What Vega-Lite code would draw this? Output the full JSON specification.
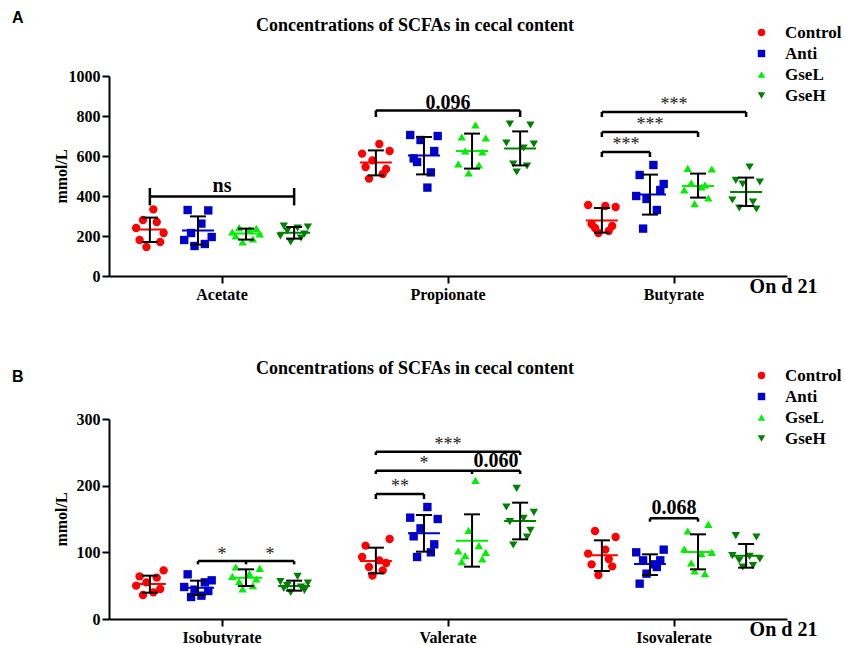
{
"$schema": "https://vega.github.io/schema/vega-lite/v6.json",
"padding": {"left": 12, "top": 10, "right": 0, "bottom": 0},
"spacing": 58,
"resolve": {"scale": {"x": "independent", "y": "independent", "xOffset": "independent", "color": "independent", "shape": "independent"}},
"config": {
  "view": {"stroke": null},
  "font": "Liberation Serif",
  "axis": {"grid": false, "domainColor": "#000", "domainWidth": 2, "tickColor": "#000", "tickWidth": 2, "tickSize": 7, "labelFont": "Liberation Serif", "labelFontWeight": "bold", "labelFontSize": 16, "labelColor": "#000", "titleFont": "Liberation Serif", "titleFontWeight": "bold", "titleColor": "#000", "labelOverlap": false},
  "axisX": {"labelAngle": 0, "labelPadding": 3, "titleFontSize": 20, "titleX": 674, "titleY": 16, "titleAlign": "center", "titleBaseline": "alphabetic"},
  "axisY": {"labelPadding": 2, "titleFontSize": 16, "titleX": -48, "titleBaseline": "middle", "format": "d"},
  "legend": {"labelFont": "Liberation Serif", "labelFontWeight": "bold", "labelFontSize": 17, "labelColor": "#000", "symbolSize": 55, "labelOffset": 15, "rowPadding": 3, "padding": 0},
  "title": {"font": "Liberation Serif", "fontWeight": "bold", "color": "#000", "fontSize": 18}
},
"datasets": {
  "ptsA": [
    {"acid":"Acetate","group":"Control","k":"C5","v":333},{"acid":"Acetate","group":"Control","k":"C3","v":280},{"acid":"Acetate","group":"Control","k":"C6","v":270},{"acid":"Acetate","group":"Control","k":"C1","v":240},{"acid":"Acetate","group":"Control","k":"C8","v":215},{"acid":"Acetate","group":"Control","k":"C2","v":180},{"acid":"Acetate","group":"Control","k":"C7","v":170},{"acid":"Acetate","group":"Control","k":"C4","v":145},
    {"acid":"Acetate","group":"Anti","k":"A2","v":330},{"acid":"Acetate","group":"Anti","k":"A7","v":328},{"acid":"Acetate","group":"Anti","k":"A5","v":262},{"acid":"Acetate","group":"Anti","k":"A3","v":215},{"acid":"Acetate","group":"Anti","k":"A8","v":195},{"acid":"Acetate","group":"Anti","k":"A1","v":180},{"acid":"Acetate","group":"Anti","k":"A6","v":160},{"acid":"Acetate","group":"Anti","k":"A4","v":150},
    {"acid":"Acetate","group":"GseL","k":"L3","v":242},{"acid":"Acetate","group":"GseL","k":"L7","v":238},{"acid":"Acetate","group":"GseL","k":"L5","v":232},{"acid":"Acetate","group":"GseL","k":"L1","v":220},{"acid":"Acetate","group":"GseL","k":"L8","v":210},{"acid":"Acetate","group":"GseL","k":"L2","v":200},{"acid":"Acetate","group":"GseL","k":"L6","v":185},{"acid":"Acetate","group":"GseL","k":"L4","v":170},
    {"acid":"Acetate","group":"GseH","k":"H2","v":250},{"acid":"Acetate","group":"GseH","k":"H8","v":245},{"acid":"Acetate","group":"GseH","k":"H5","v":240},{"acid":"Acetate","group":"GseH","k":"H3","v":225},{"acid":"Acetate","group":"GseH","k":"H7","v":210},{"acid":"Acetate","group":"GseH","k":"H1","v":200},{"acid":"Acetate","group":"GseH","k":"H6","v":190},{"acid":"Acetate","group":"GseH","k":"H4","v":170},
    {"acid":"Propionate","group":"Control","k":"C5","v":660},{"acid":"Propionate","group":"Control","k":"C8","v":625},{"acid":"Propionate","group":"Control","k":"C1","v":612},{"acid":"Propionate","group":"Control","k":"C4","v":578},{"acid":"Propionate","group":"Control","k":"C2","v":545},{"acid":"Propionate","group":"Control","k":"C7","v":535},{"acid":"Propionate","group":"Control","k":"C6","v":510},{"acid":"Propionate","group":"Control","k":"C3","v":487},
    {"acid":"Propionate","group":"Anti","k":"A1","v":705},{"acid":"Propionate","group":"Anti","k":"A8","v":700},{"acid":"Propionate","group":"Anti","k":"A4","v":680},{"acid":"Propionate","group":"Anti","k":"A7","v":625},{"acid":"Propionate","group":"Anti","k":"A2","v":588},{"acid":"Propionate","group":"Anti","k":"A3","v":570},{"acid":"Propionate","group":"Anti","k":"A6","v":518},{"acid":"Propionate","group":"Anti","k":"A5","v":442},
    {"acid":"Propionate","group":"GseL","k":"L5","v":755},{"acid":"Propionate","group":"GseL","k":"L2","v":695},{"acid":"Propionate","group":"GseL","k":"L8","v":690},{"acid":"Propionate","group":"GseL","k":"L3","v":625},{"acid":"Propionate","group":"GseL","k":"L7","v":620},{"acid":"Propionate","group":"GseL","k":"L1","v":560},{"acid":"Propionate","group":"GseL","k":"L6","v":555},{"acid":"Propionate","group":"GseL","k":"L4","v":515},
    {"acid":"Propionate","group":"GseH","k":"H2","v":760},{"acid":"Propionate","group":"GseH","k":"H7","v":755},{"acid":"Propionate","group":"GseH","k":"H1","v":665},{"acid":"Propionate","group":"GseH","k":"H8","v":660},{"acid":"Propionate","group":"GseH","k":"H5","v":640},{"acid":"Propionate","group":"GseH","k":"H3","v":560},{"acid":"Propionate","group":"GseH","k":"H6","v":550},{"acid":"Propionate","group":"GseH","k":"H4","v":520},
    {"acid":"Butyrate","group":"Control","k":"C1","v":355},{"acid":"Butyrate","group":"Control","k":"C5","v":350},{"acid":"Butyrate","group":"Control","k":"C8","v":345},{"acid":"Butyrate","group":"Control","k":"C2","v":260},{"acid":"Butyrate","group":"Control","k":"C7","v":250},{"acid":"Butyrate","group":"Control","k":"C3","v":240},{"acid":"Butyrate","group":"Control","k":"C6","v":225},{"acid":"Butyrate","group":"Control","k":"C4","v":215},
    {"acid":"Butyrate","group":"Anti","k":"A5","v":555},{"acid":"Butyrate","group":"Anti","k":"A2","v":505},{"acid":"Butyrate","group":"Anti","k":"A8","v":460},{"acid":"Butyrate","group":"Anti","k":"A7","v":430},{"acid":"Butyrate","group":"Anti","k":"A1","v":400},{"acid":"Butyrate","group":"Anti","k":"A4","v":385},{"acid":"Butyrate","group":"Anti","k":"A6","v":330},{"acid":"Butyrate","group":"Anti","k":"A3","v":237},
    {"acid":"Butyrate","group":"GseL","k":"L2","v":538},{"acid":"Butyrate","group":"GseL","k":"L8","v":535},{"acid":"Butyrate","group":"GseL","k":"L3","v":465},{"acid":"Butyrate","group":"GseL","k":"L6","v":455},{"acid":"Butyrate","group":"GseL","k":"L5","v":445},{"acid":"Butyrate","group":"GseL","k":"L1","v":430},{"acid":"Butyrate","group":"GseL","k":"L7","v":390},{"acid":"Butyrate","group":"GseL","k":"L4","v":362},
    {"acid":"Butyrate","group":"GseH","k":"H5","v":545},{"acid":"Butyrate","group":"GseH","k":"H2","v":478},{"acid":"Butyrate","group":"GseH","k":"H8","v":470},{"acid":"Butyrate","group":"GseH","k":"H4","v":460},{"acid":"Butyrate","group":"GseH","k":"H1","v":380},{"acid":"Butyrate","group":"GseH","k":"H6","v":370},{"acid":"Butyrate","group":"GseH","k":"H3","v":340},{"acid":"Butyrate","group":"GseH","k":"H7","v":335}
  ],
  "sumA": [
    {"acid":"Acetate","k":"Control","mean":232,"lo":170,"hi":292},{"acid":"Acetate","k":"Anti","mean":228,"lo":157,"hi":298},{"acid":"Acetate","k":"GseL","mean":212,"lo":182,"hi":237},{"acid":"Acetate","k":"GseH","mean":216,"lo":187,"hi":245},
    {"acid":"Propionate","k":"Control","mean":567,"lo":503,"hi":628},{"acid":"Propionate","k":"Anti","mean":603,"lo":508,"hi":695},{"acid":"Propionate","k":"GseL","mean":625,"lo":537,"hi":712},{"acid":"Propionate","k":"GseH","mean":637,"lo":553,"hi":723},
    {"acid":"Butyrate","k":"Control","mean":278,"lo":217,"hi":340},{"acid":"Butyrate","k":"Anti","mean":408,"lo":307,"hi":507},{"acid":"Butyrate","k":"GseL","mean":450,"lo":392,"hi":512},{"acid":"Butyrate","k":"GseH","mean":420,"lo":350,"hi":492}
  ],
  "segA": [
    {"acid":"Acetate","seg":"s1","k":"Control","y":398},{"acid":"Acetate","seg":"s1","k":"GseH","y":398},
    {"acid":"Propionate","seg":"s2","k":"Control","y":828},{"acid":"Propionate","seg":"s2","k":"GseH","y":828},
    {"acid":"Butyrate","seg":"s3","k":"Control","y":620},{"acid":"Butyrate","seg":"s3","k":"Anti","y":620},
    {"acid":"Butyrate","seg":"s4","k":"Control","y":720},{"acid":"Butyrate","seg":"s4","k":"GseL","y":720},
    {"acid":"Butyrate","seg":"s5","k":"Control","y":820},{"acid":"Butyrate","seg":"s5","k":"GseH","y":820}
  ],
  "legA": [
    {"acid":"Acetate","k":"Control","y1":353,"y2":440},{"acid":"Acetate","k":"GseH","y1":353,"y2":440},
    {"acid":"Propionate","k":"Control","y1":795,"y2":828},{"acid":"Propionate","k":"GseH","y1":795,"y2":828},
    {"acid":"Butyrate","k":"Control","y1":595,"y2":620},{"acid":"Butyrate","k":"Anti","y1":595,"y2":620},
    {"acid":"Butyrate","k":"Control","y1":695,"y2":720},{"acid":"Butyrate","k":"GseL","y1":695,"y2":720},
    {"acid":"Butyrate","k":"Control","y1":795,"y2":820},{"acid":"Butyrate","k":"GseH","y1":795,"y2":820}
  ],
  "labA": [
    {"acid":"Acetate","k":"mid","y":420,"t":"ns","kind":"p"},
    {"acid":"Propionate","k":"mid","y":837,"t":"0.096","kind":"p"},
    {"acid":"Butyrate","k":"CA","y":630,"t":"***","kind":"s"},
    {"acid":"Butyrate","k":"Anti","y":730,"t":"***","kind":"s"},
    {"acid":"Butyrate","k":"mid","y":830,"t":"***","kind":"s"}
  ],
  "ptsB": [
    {"acid":"Isobutyrate","group":"Control","k":"C8","v":73},{"acid":"Isobutyrate","group":"Control","k":"C2","v":64},{"acid":"Isobutyrate","group":"Control","k":"C6","v":62},{"acid":"Isobutyrate","group":"Control","k":"C4","v":55},{"acid":"Isobutyrate","group":"Control","k":"C1","v":50},{"acid":"Isobutyrate","group":"Control","k":"C7","v":45},{"acid":"Isobutyrate","group":"Control","k":"C5","v":40},{"acid":"Isobutyrate","group":"Control","k":"C3","v":36},
    {"acid":"Isobutyrate","group":"Anti","k":"A2","v":67},{"acid":"Isobutyrate","group":"Anti","k":"A8","v":58},{"acid":"Isobutyrate","group":"Anti","k":"A6","v":55},{"acid":"Isobutyrate","group":"Anti","k":"A1","v":48},{"acid":"Isobutyrate","group":"Anti","k":"A4","v":44},{"acid":"Isobutyrate","group":"Anti","k":"A7","v":42},{"acid":"Isobutyrate","group":"Anti","k":"A5","v":35},{"acid":"Isobutyrate","group":"Anti","k":"A3","v":33},
    {"acid":"Isobutyrate","group":"GseL","k":"L2","v":78},{"acid":"Isobutyrate","group":"GseL","k":"L8","v":76},{"acid":"Isobutyrate","group":"GseL","k":"L5","v":68},{"acid":"Isobutyrate","group":"GseL","k":"L1","v":64},{"acid":"Isobutyrate","group":"GseL","k":"L7","v":60},{"acid":"Isobutyrate","group":"GseL","k":"L3","v":56},{"acid":"Isobutyrate","group":"GseL","k":"L6","v":50},{"acid":"Isobutyrate","group":"GseL","k":"L4","v":45},
    {"acid":"Isobutyrate","group":"GseH","k":"H5","v":64},{"acid":"Isobutyrate","group":"GseH","k":"H1","v":56},{"acid":"Isobutyrate","group":"GseH","k":"H8","v":54},{"acid":"Isobutyrate","group":"GseH","k":"H3","v":50},{"acid":"Isobutyrate","group":"GseH","k":"H6","v":48},{"acid":"Isobutyrate","group":"GseH","k":"H2","v":46},{"acid":"Isobutyrate","group":"GseH","k":"H7","v":43},{"acid":"Isobutyrate","group":"GseH","k":"H4","v":40},
    {"acid":"Valerate","group":"Control","k":"C8","v":120},{"acid":"Valerate","group":"Control","k":"C2","v":110},{"acid":"Valerate","group":"Control","k":"C1","v":93},{"acid":"Valerate","group":"Control","k":"C5","v":88},{"acid":"Valerate","group":"Control","k":"C7","v":84},{"acid":"Valerate","group":"Control","k":"C3","v":78},{"acid":"Valerate","group":"Control","k":"C6","v":73},{"acid":"Valerate","group":"Control","k":"C4","v":65},
    {"acid":"Valerate","group":"Anti","k":"A5","v":168},{"acid":"Valerate","group":"Anti","k":"A1","v":152},{"acid":"Valerate","group":"Anti","k":"A8","v":150},{"acid":"Valerate","group":"Anti","k":"A4","v":136},{"acid":"Valerate","group":"Anti","k":"A2","v":124},{"acid":"Valerate","group":"Anti","k":"A7","v":112},{"acid":"Valerate","group":"Anti","k":"A6","v":100},{"acid":"Valerate","group":"Anti","k":"A3","v":93},
    {"acid":"Valerate","group":"GseL","k":"L5","v":208},{"acid":"Valerate","group":"GseL","k":"L4","v":133},{"acid":"Valerate","group":"GseL","k":"L6","v":110},{"acid":"Valerate","group":"GseL","k":"L1","v":102},{"acid":"Valerate","group":"GseL","k":"L8","v":100},{"acid":"Valerate","group":"GseL","k":"L3","v":95},{"acid":"Valerate","group":"GseL","k":"L7","v":90},{"acid":"Valerate","group":"GseL","k":"L2","v":86},
    {"acid":"Valerate","group":"GseH","k":"H4","v":196},{"acid":"Valerate","group":"GseH","k":"H1","v":168},{"acid":"Valerate","group":"GseH","k":"H8","v":160},{"acid":"Valerate","group":"GseH","k":"H5","v":151},{"acid":"Valerate","group":"GseH","k":"H2","v":146},{"acid":"Valerate","group":"GseH","k":"H7","v":133},{"acid":"Valerate","group":"GseH","k":"H6","v":123},{"acid":"Valerate","group":"GseH","k":"H3","v":111},
    {"acid":"Isovalerate","group":"Control","k":"C3","v":132},{"acid":"Isovalerate","group":"Control","k":"C8","v":123},{"acid":"Isovalerate","group":"Control","k":"C5","v":104},{"acid":"Isovalerate","group":"Control","k":"C1","v":98},{"acid":"Isovalerate","group":"Control","k":"C6","v":90},{"acid":"Isovalerate","group":"Control","k":"C2","v":82},{"acid":"Isovalerate","group":"Control","k":"C7","v":79},{"acid":"Isovalerate","group":"Control","k":"C4","v":66},
    {"acid":"Isovalerate","group":"Anti","k":"A8","v":104},{"acid":"Isovalerate","group":"Anti","k":"A1","v":100},{"acid":"Isovalerate","group":"Anti","k":"A3","v":88},{"acid":"Isovalerate","group":"Anti","k":"A7","v":88},{"acid":"Isovalerate","group":"Anti","k":"A5","v":82},{"acid":"Isovalerate","group":"Anti","k":"A6","v":78},{"acid":"Isovalerate","group":"Anti","k":"A4","v":68},{"acid":"Isovalerate","group":"Anti","k":"A2","v":53},
    {"acid":"Isovalerate","group":"GseL","k":"L7","v":142},{"acid":"Isovalerate","group":"GseL","k":"L2","v":132},{"acid":"Isovalerate","group":"GseL","k":"L1","v":105},{"acid":"Isovalerate","group":"GseL","k":"L8","v":100},{"acid":"Isovalerate","group":"GseL","k":"L5","v":98},{"acid":"Isovalerate","group":"GseL","k":"L3","v":84},{"acid":"Isovalerate","group":"GseL","k":"L4","v":72},{"acid":"Isovalerate","group":"GseL","k":"L6","v":68},
    {"acid":"Isovalerate","group":"GseH","k":"H2","v":125},{"acid":"Isovalerate","group":"GseH","k":"H7","v":123},{"acid":"Isovalerate","group":"GseH","k":"H1","v":95},{"acid":"Isovalerate","group":"GseH","k":"H5","v":94},{"acid":"Isovalerate","group":"GseH","k":"H8","v":90},{"acid":"Isovalerate","group":"GseH","k":"H3","v":88},{"acid":"Isovalerate","group":"GseH","k":"H6","v":80},{"acid":"Isovalerate","group":"GseH","k":"H4","v":78}
  ],
  "sumB": [
    {"acid":"Isobutyrate","k":"Control","mean":52.5,"lo":39.5,"hi":65},{"acid":"Isobutyrate","k":"Anti","mean":47,"lo":36,"hi":57.5},{"acid":"Isobutyrate","k":"GseL","mean":62,"lo":49.5,"hi":74.5},{"acid":"Isobutyrate","k":"GseH","mean":49.5,"lo":42.5,"hi":57.5},
    {"acid":"Valerate","k":"Control","mean":87,"lo":68.5,"hi":107},{"acid":"Valerate","k":"Anti","mean":128.5,"lo":101,"hi":156},{"acid":"Valerate","k":"GseL","mean":117.5,"lo":78.5,"hi":157},{"acid":"Valerate","k":"GseH","mean":147,"lo":119.5,"hi":174.5},
    {"acid":"Isovalerate","k":"Control","mean":95.5,"lo":72,"hi":118},{"acid":"Isovalerate","k":"Anti","mean":82.5,"lo":66,"hi":97},{"acid":"Isovalerate","k":"GseL","mean":100.5,"lo":74.5,"hi":127},{"acid":"Isovalerate","k":"GseH","mean":95,"lo":77,"hi":112.5}
  ],
  "segB": [
    {"acid":"Isobutyrate","seg":"t1","k":"Anti","y":87},{"acid":"Isobutyrate","seg":"t1","k":"GseL","y":87},
    {"acid":"Isobutyrate","seg":"t2","k":"GseL","y":87},{"acid":"Isobutyrate","seg":"t2","k":"GseH","y":87},
    {"acid":"Valerate","seg":"t3","k":"Control","y":187.5},{"acid":"Valerate","seg":"t3","k":"Anti","y":187.5},
    {"acid":"Valerate","seg":"t4","k":"Control","y":222.5},{"acid":"Valerate","seg":"t4","k":"GseL","y":222.5},
    {"acid":"Valerate","seg":"t5","k":"GseL","y":222.5},{"acid":"Valerate","seg":"t5","k":"GseH","y":222.5},
    {"acid":"Valerate","seg":"t6","k":"Control","y":251},{"acid":"Valerate","seg":"t6","k":"GseH","y":251},
    {"acid":"Isovalerate","seg":"t7","k":"Anti","y":151},{"acid":"Isovalerate","seg":"t7","k":"GseL","y":151}
  ],
  "legB": [
    {"acid":"Isobutyrate","k":"Anti","y1":82,"y2":87},{"acid":"Isobutyrate","k":"GseL","y1":82,"y2":87},{"acid":"Isobutyrate","k":"GseH","y1":82,"y2":87},
    {"acid":"Valerate","k":"Control","y1":180,"y2":187.5},{"acid":"Valerate","k":"Anti","y1":180,"y2":187.5},
    {"acid":"Valerate","k":"Control","y1":217.5,"y2":222.5},{"acid":"Valerate","k":"GseL","y1":217.5,"y2":222.5},{"acid":"Valerate","k":"GseH","y1":217.5,"y2":222.5},
    {"acid":"Valerate","k":"Control","y1":246,"y2":251},{"acid":"Valerate","k":"GseH","y1":246,"y2":251},
    {"acid":"Isovalerate","k":"Anti","y1":146,"y2":151},{"acid":"Isovalerate","k":"GseL","y1":146,"y2":151}
  ],
  "labB": [
    {"acid":"Isobutyrate","k":"mid","y":89,"t":"*","kind":"s"},
    {"acid":"Isobutyrate","k":"LH","y":89,"t":"*","kind":"s"},
    {"acid":"Valerate","k":"CA","y":191,"t":"**","kind":"s"},
    {"acid":"Valerate","k":"Anti","y":225,"t":"*","kind":"s"},
    {"acid":"Valerate","k":"LH","y":228.5,"t":"0.060","kind":"p"},
    {"acid":"Valerate","k":"mid","y":254,"t":"***","kind":"s"},
    {"acid":"Isovalerate","k":"mid","y":157.5,"t":"0.068","kind":"p"}
  ]
},
"vconcat": [
 {
  "title": {"text": "A", "font": "Liberation Sans", "fontSize": 16, "fontWeight": "bold", "anchor": "start", "frame": "bounds", "dx": -41, "dy": 9, "offset": 0},
  "resolve": {"scale": {"x": "independent", "y": "independent", "xOffset": "independent", "color": "independent", "shape": "independent"}},
  "vconcat": [
   {
    "width": 678, "height": 200,
    "title": {"text": "Concentrations of SCFAs in cecal content", "dx": -33, "offset": -11},
    "encoding": {
      "x": {"field": "acid", "type": "nominal", "scale": {"domain": ["Acetate","Propionate","Butyrate"], "paddingInner": 0, "paddingOuter": 0}, "axis": {"title": "On d 21"}},
      "xOffset": {"field": "k", "type": "nominal", "scale": {"domain": ["e1","e2","e3","e4","e5","e6","e7","C1","C2","C3","C4","Control","C5","C6","C7","C8","g1","g2","CA","g4","g5","A1","A2","A3","A4","Anti","A5","A6","A7","A8","g6","g7","mid","g9","g10","L1","L2","L3","L4","GseL","L5","L6","L7","L8","g11","g12","LH","g14","g15","H1","H2","H3","H4","GseH","H5","H6","H7","H8","e8","e9","e10","e11","e12","e13","e14"], "paddingInner": 0, "paddingOuter": 0.4}}
    },
    "layer": [
     {"data": {"name": "ptsA"}, "mark": {"type": "point", "filled": true, "size": 70, "opacity": 1},
      "encoding": {
        "y": {"field": "v", "type": "quantitative", "scale": {"domain": [0, 1000], "nice": false}, "axis": {"values": [0,200,400,600,800,1000]}, "title": "mmol/L"},
        "color": {"field": "group", "type": "nominal", "scale": {"domain": ["Control","Anti","GseL","GseH"], "range": ["#ff0000","#0000cd","#00ee00","#008000"]}, "legend": {"orient": "none", "legendX": 644, "legendY": -52, "title": null}},
        "shape": {"field": "group", "type": "nominal", "scale": {"domain": ["Control","Anti","GseL","GseH"], "range": ["circle","square","triangle-up","triangle-down"]}, "legend": {"orient": "none", "legendX": 644, "legendY": -52, "title": null}}
      }},
     {"data": {"name": "sumA"}, "mark": {"type": "tick", "size": 32, "thickness": 2, "opacity": 1},
      "encoding": {
        "y": {"field": "mean", "type": "quantitative", "scale": {"domain": [0, 1000], "nice": false}, "axis": {"values": [0,200,400,600,800,1000]}, "title": "mmol/L"},
        "color": {"field": "k", "type": "nominal", "scale": {"domain": ["Control","Anti","GseL","GseH"], "range": ["#ff0000","#0000cd","#00ee00","#008000"]}, "legend": null}
      }},
     {"data": {"name": "sumA"}, "mark": {"type": "rule", "strokeWidth": 2, "color": "#000"},
      "encoding": {
        "y": {"field": "lo", "type": "quantitative", "scale": {"domain": [0, 1000], "nice": false}, "axis": {"values": [0,200,400,600,800,1000]}, "title": "mmol/L"},
        "y2": {"field": "hi"}
      }},
     {"data": {"name": "sumA"}, "mark": {"type": "tick", "size": 16, "thickness": 2, "color": "#000", "opacity": 1},
      "encoding": {"y": {"field": "lo", "type": "quantitative", "scale": {"domain": [0, 1000], "nice": false}, "axis": {"values": [0,200,400,600,800,1000]}, "title": "mmol/L"}}},
     {"data": {"name": "sumA"}, "mark": {"type": "tick", "size": 16, "thickness": 2, "color": "#000", "opacity": 1},
      "encoding": {"y": {"field": "hi", "type": "quantitative", "scale": {"domain": [0, 1000], "nice": false}, "axis": {"values": [0,200,400,600,800,1000]}, "title": "mmol/L"}}},
     {"data": {"name": "segA"}, "mark": {"type": "line", "strokeWidth": 2.5, "color": "#000"},
      "encoding": {"y": {"field": "y", "type": "quantitative", "scale": {"domain": [0, 1000], "nice": false}, "axis": {"values": [0,200,400,600,800,1000]}, "title": "mmol/L"}, "detail": {"field": "seg"}}},
     {"data": {"name": "legA"}, "mark": {"type": "rule", "strokeWidth": 2.5, "color": "#000"},
      "encoding": {"y": {"field": "y1", "type": "quantitative", "scale": {"domain": [0, 1000], "nice": false}, "axis": {"values": [0,200,400,600,800,1000]}, "title": "mmol/L"}, "y2": {"field": "y2"}}},
     {"data": {"name": "labA"}, "transform": [{"filter": "datum.kind == 'p'"}], "mark": {"type": "text", "fontSize": 20, "fontWeight": "bold", "baseline": "alphabetic", "align": "center", "color": "#000"},
      "encoding": {"y": {"field": "y", "type": "quantitative", "scale": {"domain": [0, 1000], "nice": false}, "axis": {"values": [0,200,400,600,800,1000]}, "title": "mmol/L"}, "text": {"field": "t"}}},
     {"data": {"name": "labA"}, "transform": [{"filter": "datum.kind == 's'"}], "mark": {"type": "text", "fontSize": 18, "fontWeight": "normal", "baseline": "alphabetic", "align": "center", "color": "#222"},
      "encoding": {"y": {"field": "y", "type": "quantitative", "scale": {"domain": [0, 1000], "nice": false}, "axis": {"values": [0,200,400,600,800,1000]}, "title": "mmol/L"}, "text": {"field": "t"}}}
    ]
   }
  ]
 },
 {
  "title": {"text": "B", "font": "Liberation Sans", "fontSize": 16, "fontWeight": "bold", "anchor": "start", "frame": "bounds", "dx": -41, "dy": 25, "offset": 0},
  "resolve": {"scale": {"x": "independent", "y": "independent", "xOffset": "independent", "color": "independent", "shape": "independent"}},
  "vconcat": [
   {
    "width": 678, "height": 200,
    "title": {"text": "Concentrations of SCFAs in cecal content", "dx": -33, "offset": -11},
    "encoding": {
      "x": {"field": "acid", "type": "nominal", "scale": {"domain": ["Isobutyrate","Valerate","Isovalerate"], "paddingInner": 0, "paddingOuter": 0}, "axis": {"title": "On d 21"}},
      "xOffset": {"field": "k", "type": "nominal", "scale": {"domain": ["e1","e2","e3","e4","e5","e6","e7","C1","C2","C3","C4","Control","C5","C6","C7","C8","g1","g2","CA","g4","g5","A1","A2","A3","A4","Anti","A5","A6","A7","A8","g6","g7","mid","g9","g10","L1","L2","L3","L4","GseL","L5","L6","L7","L8","g11","g12","LH","g14","g15","H1","H2","H3","H4","GseH","H5","H6","H7","H8","e8","e9","e10","e11","e12","e13","e14"], "paddingInner": 0, "paddingOuter": 0.4}}
    },
    "layer": [
     {"data": {"name": "ptsB"}, "mark": {"type": "point", "filled": true, "size": 70, "opacity": 1},
      "encoding": {
        "y": {"field": "v", "type": "quantitative", "scale": {"domain": [0, 300], "nice": false}, "axis": {"values": [0,100,200,300]}, "title": "mmol/L"},
        "color": {"field": "group", "type": "nominal", "scale": {"domain": ["Control","Anti","GseL","GseH"], "range": ["#ff0000","#0000cd","#00ee00","#008000"]}, "legend": {"orient": "none", "legendX": 644, "legendY": -52, "title": null}},
        "shape": {"field": "group", "type": "nominal", "scale": {"domain": ["Control","Anti","GseL","GseH"], "range": ["circle","square","triangle-up","triangle-down"]}, "legend": {"orient": "none", "legendX": 644, "legendY": -52, "title": null}}
      }},
     {"data": {"name": "sumB"}, "mark": {"type": "tick", "size": 32, "thickness": 2, "opacity": 1},
      "encoding": {
        "y": {"field": "mean", "type": "quantitative", "scale": {"domain": [0, 300], "nice": false}, "axis": {"values": [0,100,200,300]}, "title": "mmol/L"},
        "color": {"field": "k", "type": "nominal", "scale": {"domain": ["Control","Anti","GseL","GseH"], "range": ["#ff0000","#0000cd","#00ee00","#008000"]}, "legend": null}
      }},
     {"data": {"name": "sumB"}, "mark": {"type": "rule", "strokeWidth": 2, "color": "#000"},
      "encoding": {
        "y": {"field": "lo", "type": "quantitative", "scale": {"domain": [0, 300], "nice": false}, "axis": {"values": [0,100,200,300]}, "title": "mmol/L"},
        "y2": {"field": "hi"}
      }},
     {"data": {"name": "sumB"}, "mark": {"type": "tick", "size": 16, "thickness": 2, "color": "#000", "opacity": 1},
      "encoding": {"y": {"field": "lo", "type": "quantitative", "scale": {"domain": [0, 300], "nice": false}, "axis": {"values": [0,100,200,300]}, "title": "mmol/L"}}},
     {"data": {"name": "sumB"}, "mark": {"type": "tick", "size": 16, "thickness": 2, "color": "#000", "opacity": 1},
      "encoding": {"y": {"field": "hi", "type": "quantitative", "scale": {"domain": [0, 300], "nice": false}, "axis": {"values": [0,100,200,300]}, "title": "mmol/L"}}},
     {"data": {"name": "segB"}, "mark": {"type": "line", "strokeWidth": 2.5, "color": "#000"},
      "encoding": {"y": {"field": "y", "type": "quantitative", "scale": {"domain": [0, 300], "nice": false}, "axis": {"values": [0,100,200,300]}, "title": "mmol/L"}, "detail": {"field": "seg"}}},
     {"data": {"name": "legB"}, "mark": {"type": "rule", "strokeWidth": 2.5, "color": "#000"},
      "encoding": {"y": {"field": "y1", "type": "quantitative", "scale": {"domain": [0, 300], "nice": false}, "axis": {"values": [0,100,200,300]}, "title": "mmol/L"}, "y2": {"field": "y2"}}},
     {"data": {"name": "labB"}, "transform": [{"filter": "datum.kind == 'p'"}], "mark": {"type": "text", "fontSize": 20, "fontWeight": "bold", "baseline": "alphabetic", "align": "center", "color": "#000"},
      "encoding": {"y": {"field": "y", "type": "quantitative", "scale": {"domain": [0, 300], "nice": false}, "axis": {"values": [0,100,200,300]}, "title": "mmol/L"}, "text": {"field": "t"}}},
     {"data": {"name": "labB"}, "transform": [{"filter": "datum.kind == 's'"}], "mark": {"type": "text", "fontSize": 18, "fontWeight": "normal", "baseline": "alphabetic", "align": "center", "color": "#222"},
      "encoding": {"y": {"field": "y", "type": "quantitative", "scale": {"domain": [0, 300], "nice": false}, "axis": {"values": [0,100,200,300]}, "title": "mmol/L"}, "text": {"field": "t"}}}
    ]
   }
  ]
 }
]
}
